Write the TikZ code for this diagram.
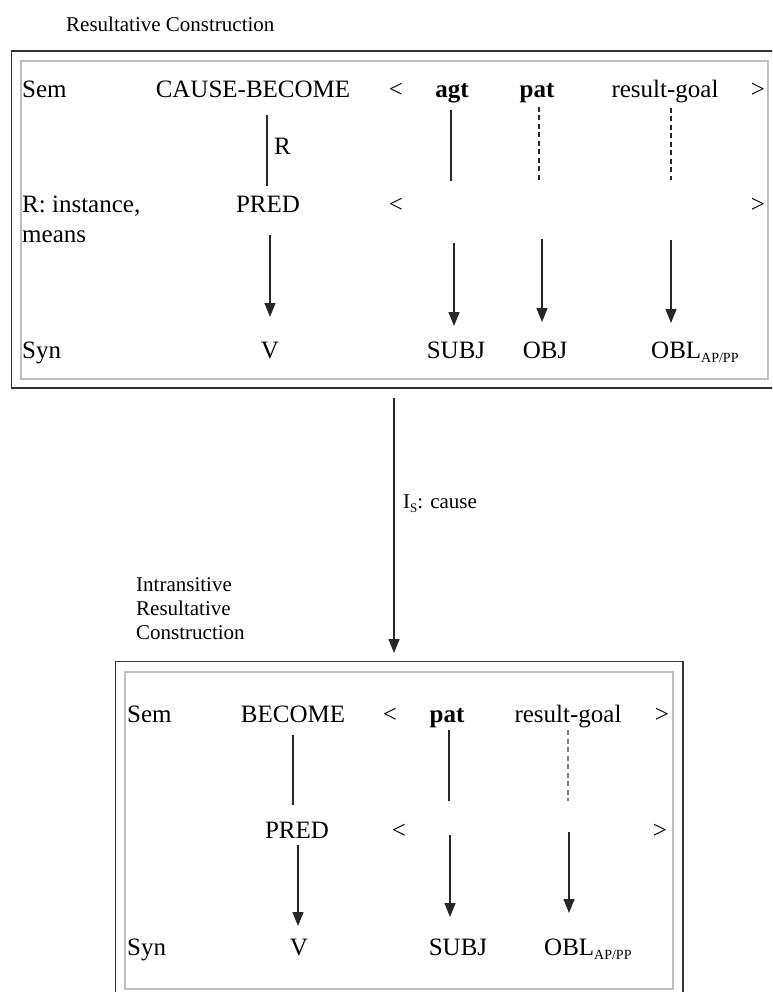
\documentclass[tikz,border=0pt]{standalone}
\usepackage{fontspec}
\setmainfont{Liberation Serif}
\usetikzlibrary{arrows.meta}
\begin{document}
\begin{tikzpicture}[x=1pt,y=-1pt,
  txt/.style={inner sep=0pt,anchor=base,font=\fontsize{25}{28}\selectfont},
  ltxt/.style={inner sep=0pt,anchor=base west,font=\fontsize{25}{28}\selectfont},
  small/.style={inner sep=0pt,anchor=base west,font=\fontsize{21}{24}\selectfont,align=left},
  outerbox/.style={draw=black!80,line width=1.8pt},
  innerbox/.style={draw=black!25,line width=1.3pt},
  link/.style={draw=black!85,line width=1.2pt},
  dlink/.style={draw=black!85,line width=1.4pt,dash pattern=on 5pt off 3.5pt},
  glink/.style={draw=black!50,line width=2pt,dash pattern=on 5pt off 3.5pt},
  arr/.style={draw=black!85,line width=1.2pt,-{Triangle[width=11pt,length=14pt]}}
]
\useasboundingbox (0,0) rectangle (772,992);
\clip (0,0) rectangle (772,992);
\fill[white] (0,0) rectangle (772,992);

% ---------- top construction ----------
\node[small] (title1) at (66,32) {Resultative Construction};
\draw[outerbox] (11.5,51) rectangle (790,388);
\draw[innerbox] (21,61) rectangle (768,379);

\node[ltxt] (sem1) at (22,98) {Sem};
\node[txt] (cb) at (253,98) {CAUSE-BECOME};
\node[txt] (lt1) at (396,98) {<};
\node[txt] (agt1) at (452,98) {\textbf{agt}};
\node[txt] (pat1) at (537,98) {\textbf{pat}};
\node[txt] (rg1) at (665,98) {result-goal};
\node[txt] (gt1) at (758,98) {>};

\node[ltxt] (rinst) at (22,213) {R: instance,};
\node[ltxt] (means) at (22,242) {means};
\node[txt] (pred1) at (268,213) {PRED};
\node[txt] (lt2) at (396,213) {<};
\node[txt] (gt2) at (758,213) {>};

\node[ltxt] (syn1) at (22,358) {Syn};
\node[txt] (v1) at (270,358) {V};
\node[txt] (subj1) at (456,358) {SUBJ};
\node[txt] (obj1) at (545,358) {OBJ};
\node[ltxt] (obl1) at (651,358) {OBL\raisebox{-0.35ex}{\fontsize{14}{16}\selectfont AP/PP}};

\coordinate (cbA) at (267,115); \coordinate (cbB) at (267,186);
\draw[link] (cbA) -- (cbB);
\node[ltxt] (rlab) at (274,155) {R};
\coordinate (agA) at (451,110); \coordinate (agB) at (451,181);
\draw[link] (agA) -- (agB);
\coordinate (ptA) at (539,107); \coordinate (ptB) at (539,180);
\draw[dlink] (ptA) -- (ptB);
\coordinate (rgA) at (671,108); \coordinate (rgB) at (671,180);
\draw[dlink] (rgA) -- (rgB);

\coordinate (prA) at (270,235); \coordinate (prB) at (270,317);
\draw[arr] (prA) -- (prB);
\coordinate (sbA) at (454,243); \coordinate (sbB) at (454,326);
\draw[arr] (sbA) -- (sbB);
\coordinate (obA) at (542,239); \coordinate (obB) at (542,322);
\draw[arr] (obA) -- (obB);
\coordinate (olA) at (671,240); \coordinate (olB) at (671,323);
\draw[arr] (olA) -- (olB);

% ---------- inheritance link ----------
\coordinate (bigA) at (394,398); \coordinate (bigB) at (394,653);
\draw[arr] (bigA) -- (bigB);
\node[small] (is) at (403,508) {I\raisebox{-0.5ex}{\fontsize{13}{15}\selectfont S}: cause};

% ---------- bottom construction ----------
\node[small] (t2a) at (136,591) {Intransitive};
\node[small] (t2b) at (136,615) {Resultative};
\node[small] (t2c) at (136,639) {Construction};

\draw[outerbox] (115.5,661.5) rectangle (683,1010);
\draw[innerbox] (125,672) rectangle (673,989);

\node[ltxt] (sem2) at (127,722) {Sem};
\node[txt] (bec) at (293,722) {BECOME};
\node[txt] (lt3) at (390,722) {<};
\node[txt] (pat2) at (447,722) {\textbf{pat}};
\node[txt] (rg2) at (568,722) {result-goal};
\node[txt] (gt3) at (662,722) {>};

\node[txt] (pred2) at (297,838) {PRED};
\node[txt] (lt4) at (399,838) {<};
\node[txt] (gt4) at (660,838) {>};

\node[ltxt] (syn2) at (127,955) {Syn};
\node[txt] (v2) at (299,955) {V};
\node[txt] (subj2) at (458,955) {SUBJ};
\node[ltxt] (obl2) at (544,955) {OBL\raisebox{-0.35ex}{\fontsize{14}{16}\selectfont AP/PP}};

\coordinate (bcA) at (293,735); \coordinate (bcB) at (293,805);
\draw[link] (bcA) -- (bcB);
\coordinate (p2A) at (449,730); \coordinate (p2B) at (449,801);
\draw[link] (p2A) -- (p2B);
\coordinate (r2A) at (568,730); \coordinate (r2B) at (568,801);
\draw[glink] (r2A) -- (r2B);

\coordinate (pr2A) at (298,845); \coordinate (pr2B) at (298,926);
\draw[arr] (pr2A) -- (pr2B);
\coordinate (sb2A) at (450,835); \coordinate (sb2B) at (450,917);
\draw[arr] (sb2A) -- (sb2B);
\coordinate (ol2A) at (569,832); \coordinate (ol2B) at (569,913);
\draw[arr] (ol2A) -- (ol2B);
\end{tikzpicture}
\end{document}
